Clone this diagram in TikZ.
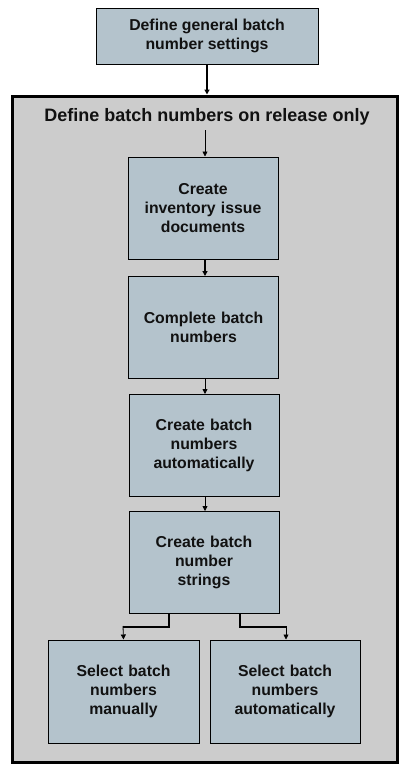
\documentclass[tikz,border=0pt]{standalone}
\usepackage{fontspec}
\setmainfont{Liberation Sans}
\usetikzlibrary{arrows.meta}
\definecolor{boxfill}{HTML}{B4C3CC}
\definecolor{outerfill}{HTML}{CCCCCC}
\definecolor{ink}{HTML}{111111}
\begin{document}
\begin{tikzpicture}[x=1pt,y=-1pt,
  stepbox/.style={draw=black,line width=1pt,fill=boxfill,minimum width=150pt,minimum height=102pt,
    align=center,font=\fontsize{15.8}{19}\selectfont\bfseries,text=ink,inner sep=0pt,text width=148pt},
  thin arrow/.style={draw=black,line width=0.8pt,-{Triangle[length=5pt,width=5pt]}},
  thick arrow/.style={draw=black,line width=2pt,-{Triangle[length=5pt,width=5pt]}}]
\useasboundingbox (0,0) rectangle (410,777);
\fill[white] (0,0) rectangle (410,777);
\node[draw=black,line width=3pt,fill=outerfill,minimum width=385pt,minimum height=666pt,inner sep=0pt] (outer) at (204.5,429) {};
\node[draw=black,line width=1pt,fill=boxfill,minimum width=222pt,minimum height=56pt,align=center,
  font=\fontsize{15.8}{19}\selectfont\bfseries,text=ink,inner sep=0pt] (top) at (207,36) {Define general batch\\number settings};
\node[font=\fontsize{18}{20}\selectfont\bfseries,text=ink] (title) at (207,117) {Define batch numbers on release only};
\node[stepbox] (b1) at (203,208) {Create\\inventory issue\\documents};
\node[stepbox] (b2) at (203.5,327) {Complete batch\\numbers};
\node[stepbox] (b3) at (204,445) {Create batch\\numbers\\automatically};
\node[stepbox] (b4) at (204,562) {Create batch\\number\\strings};
\node[stepbox,minimum width=151pt,minimum height=103pt] (b5) at (123.5,691.5) {Select batch\\numbers\\manually};
\node[stepbox,minimum width=150pt,minimum height=103pt] (b6) at (285,691.5) {Select batch\\numbers\\automatically};
\coordinate (tin) at (205,130);
\draw[thick arrow] (top.south) -- (top.south |- outer.north);
\draw[thin arrow] (tin) -- (tin |- b1.north);
\draw[thick arrow] (b1.south -| 205,0) -- (205,276);
\draw[thin arrow] (b2.south -| 205,0) -- (205,394);
\draw[thin arrow] (b3.south -| 205,0) -- (205,511);
\draw[line width=2pt] (169,613) -- (169,627) -- (123,627);
\draw[line width=2pt] (240,613) -- (240,627) -- (286,627);
\draw[thin arrow] (123,626) -- (b5.north);
\draw[thin arrow] (286,626) -- (b6.north -| 286,0);
\end{tikzpicture}
\end{document}
